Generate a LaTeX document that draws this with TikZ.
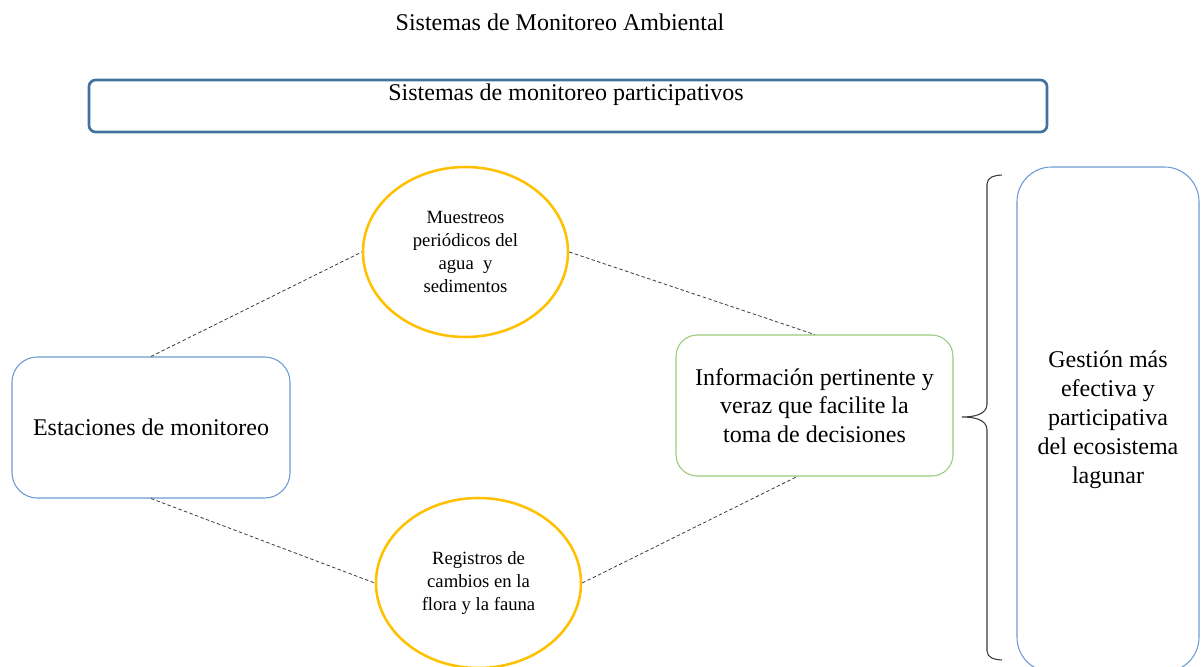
\documentclass[tikz,border=0pt]{standalone}
\usepackage{fontspec}
\setmainfont{Liberation Serif}
\usepackage{tikz}
\usetikzlibrary{shapes.geometric}
\definecolor{FrameSteel}{HTML}{41719C}
\definecolor{FrameSky}{HTML}{6C9BD2}
\definecolor{FrameLeaf}{HTML}{9BC97A}
\definecolor{RingGold}{HTML}{FFC000}
\definecolor{LinkGray}{HTML}{3A3A3A}

\begin{document}
\begin{tikzpicture}[x=0.75pt,y=-0.75pt,
  every node/.style={font=\fontsize{18}{21.5}\selectfont, align=center, inner sep=0pt},
  softbox/.style={draw=FrameSky, line width=0.8pt, rounded corners=19pt},
  ringbox/.style={ellipse, draw=RingGold, line width=1.9pt, minimum width=153.75pt, minimum height=127.5pt,
    font=\fontsize{14}{17.25}\selectfont},
  link/.style={LinkGray, line width=0.6pt, dash pattern=on 2.6pt off 1.8pt}]
  \useasboundingbox (0,0) rectangle (1204,667);
  \node (title) at (560,22) {Sistemas de Monitoreo Ambiental};
  \node[draw=FrameSteel, line width=2pt, rounded corners=5pt, minimum width=718.5pt, minimum height=39pt] (band) at (568,106) {};
  \node (bandtext) at (566,95) {Sistemas de monitoreo participativos};
  \node[softbox, minimum width=208.5pt, minimum height=105.75pt] (estaciones) at (151,427.5) {Estaciones de monitoreo};
  \node[ringbox] (muestreos) at (465.5,252) {Muestreos\\periódicos del\\agua~ y\\sedimentos};
  \node[ringbox] (registros) at (478.5,583) {Registros de\\cambios en la\\flora y la fauna};
  \node[softbox, draw=FrameLeaf, rounded corners=16pt, minimum width=207.75pt, minimum height=105.75pt] (info) at (814.5,405.5) {Información pertinente y\\veraz que facilite la\\toma de decisiones};
  \node[softbox, rounded corners=26pt, minimum width=136.5pt, minimum height=378.75pt,
    font=\fontsize{18}{21.75}\selectfont] (gestion) at (1108,419.5) {Gestión más\\efectiva y\\participativa\\del ecosistema\\lagunar};
  \draw[link] (estaciones.north) -- (muestreos.west);
  \draw[link] (muestreos.east) -- (info.north);
  \draw[link] (estaciones.south) -- (registros.west);
  \draw[link] (registros.east) -- ([xshift=-13pt]info.south);
  \draw[LinkGray, line width=0.8pt] (1002,175) to[out=180,in=90] (987,184) -- (987,404)
    to[out=270,in=0] (962,417) to[out=0,in=90] (987,430) -- (987,651) to[out=270,in=180] (1002,660);
\end{tikzpicture}
\end{document}
